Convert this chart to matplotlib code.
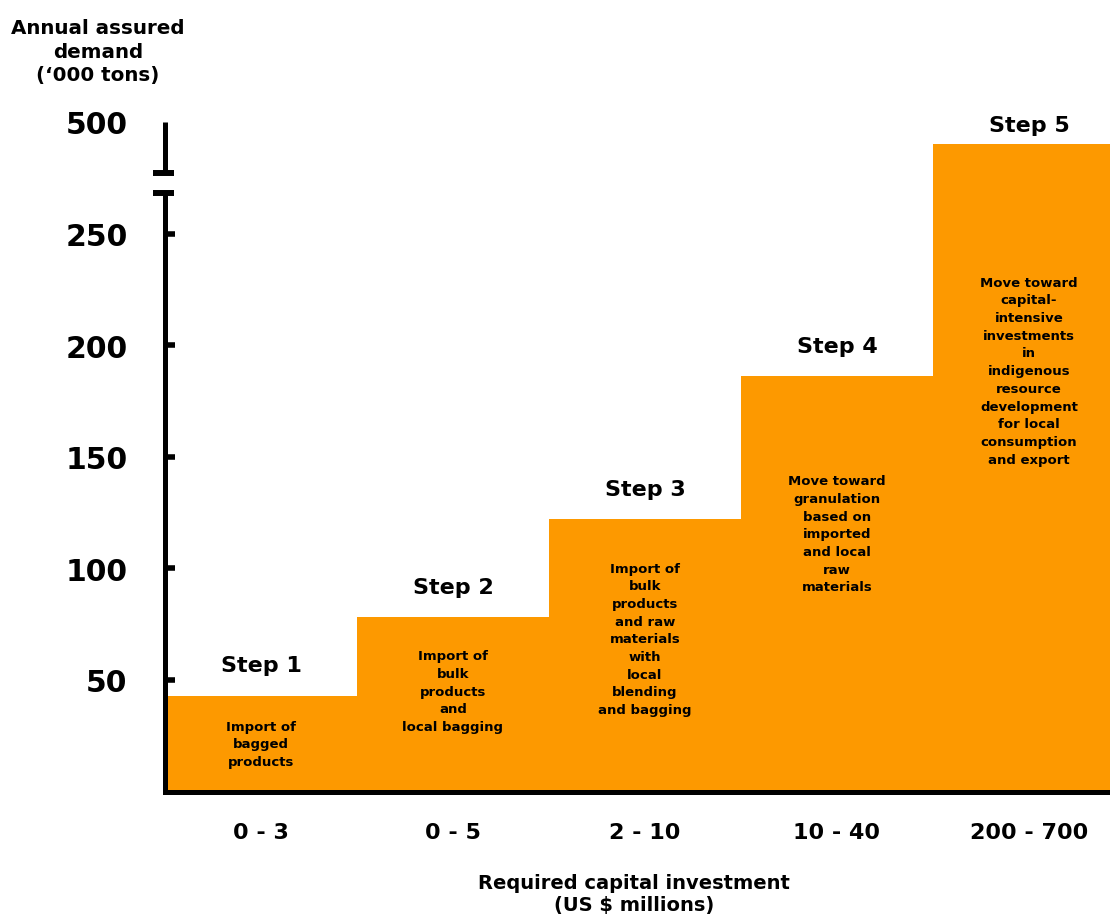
import numpy as np
import matplotlib
matplotlib.use("Agg")
import matplotlib.pyplot as plt
import matplotlib.transforms as mtransforms

# data
steps = ["Step 1", "Step 2", "Step 3", "Step 4", "Step 5"]
investment = ["0 - 3", "0 - 5", "2 - 10", "10 - 40", "200 - 700"]
demand = [43, 78, 122, 186, 490]
descriptions = [
    "Import of\nbagged\nproducts",
    "Import of\nbulk\nproducts\nand\nlocal bagging",
    "Import of\nbulk\nproducts\nand raw\nmaterials\nwith\nlocal\nblending\nand bagging",
    "Move toward\ngranulation\nbased on\nimported\nand local\nraw\nmaterials",
    "Move toward\ncapital-\nintensive\ninvestments\nin\nindigenous\nresource\ndevelopment\nfor local\nconsumption\nand export",
]
yticks = [50, 100, 150, 200, 250, 500]

# broken y axis: 268..477 squeezed into a small gap
LO, HI, GAP = 268.0, 477.0, 9.0


def fwd(v):
    v = np.asarray(v, dtype=float)
    return np.where(v <= LO, v,
                    np.where(v >= HI, v - (HI - LO) + GAP,
                             LO + (v - LO) * GAP / (HI - LO)))


def inv(y):
    y = np.asarray(y, dtype=float)
    return np.where(y <= LO, y,
                    np.where(y >= LO + GAP, y + (HI - LO) - GAP,
                             LO + (y - LO) * (HI - LO) / GAP))


plt.rcParams['font.family'] = ['DejaVu Sans']
plt.rcParams['font.weight'] = 'bold'

fig = plt.figure(figsize=(11.1, 9.2), dpi=100)
ax = fig.add_axes([165 / 1110, 127.5 / 920, 945 / 1110, 669.5 / 920])
ax.set_yscale('function', functions=(fwd, inv))

orange = '#FD9900'
x = np.arange(len(steps))
ax.bar(x, demand, width=1.0, color=orange, zorder=1)

ax.set_xlim(-0.5, 4.422)
ax.set_ylim(0, 500)

# layout of text inside / above the bars
desc_y = [21.3, 45, 68.4, 115.5, 188.6]
step_offset = [22, 22, 22, 22, 14]
for i in range(len(steps)):
    ax.annotate(steps[i], (x[i], demand[i]), xytext=(0, step_offset[i]),
                textcoords='offset points', ha='center', va='center',
                fontsize=16, fontweight='bold')
    ax.text(x[i], desc_y[i], descriptions[i], ha='center', va='center',
            fontsize=9.5, fontweight='bold', linespacing=1.47)

# spines
for s in ['top', 'right', 'left']:
    ax.spines[s].set_visible(False)
ax.spines['bottom'].set_linewidth(3.6)
ax.spines['bottom'].set_zorder(3)

trans = mtransforms.blended_transform_factory(ax.transAxes, ax.transData)
ax.plot([0, 0], [0, LO], color='black', lw=3.6, transform=trans,
        clip_on=False, solid_capstyle='projecting', zorder=3)
ax.plot([0, 0], [HI, 500], color='black', lw=3.6, transform=trans,
        clip_on=False, solid_capstyle='butt', zorder=3)
for yb in [LO, HI]:
    ax.plot([-0.0127, 0.0095], [yb, yb], color='black', lw=4.3,
            transform=trans, clip_on=False, solid_capstyle='butt', zorder=3)

ax.set_yticks(yticks)
ax.set_yticklabels([str(t) for t in yticks], fontsize=21.5, fontweight='bold')
ax.tick_params(axis='y', direction='in', length=7.2, width=4, pad=27, left=True)
ax.yaxis.get_major_ticks()[-1].tick1line.set_visible(False)
ax.minorticks_off()

ax.set_xticks(x)
ax.set_xticklabels(investment, fontsize=16, fontweight='bold')
ax.tick_params(axis='x', length=0, pad=22)

fig.text(98 / 1110, 1 - 52 / 920, "Annual assured\ndemand\n(\u2018000 tons)",
         ha='center', va='center', fontsize=14.3, fontweight='bold',
         linespacing=1.3)
fig.text(634 / 1110, 1 - 895 / 920, "Required capital investment\n(US $ millions)",
         ha='center', va='center', fontsize=14, fontweight='bold',
         linespacing=1.2)

fig.savefig('out.png', dpi=100)
